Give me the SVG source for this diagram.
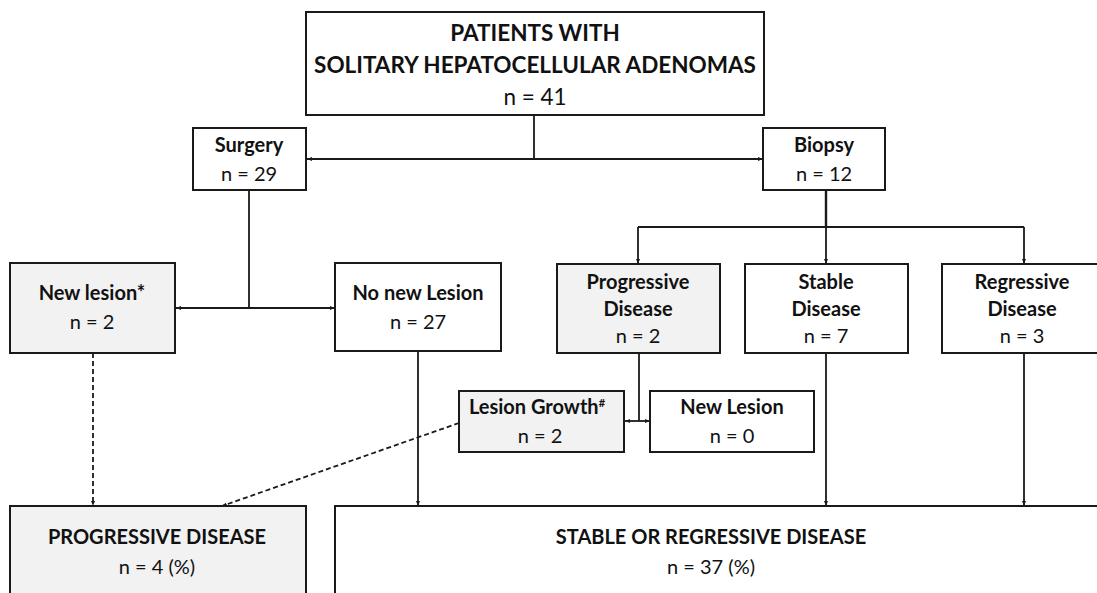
<svg xmlns="http://www.w3.org/2000/svg" width="1097" height="593" viewBox="0 0 1097 593">
<style>
.box{fill:#ffffff;stroke:#1a1a1a;stroke-width:2}
.grey{fill:#f2f2f2}
.t{font-family:Lato,"Open Sans","Liberation Sans",sans-serif;font-size:20px;fill:#111;text-anchor:middle}
.b{font-weight:bold}
.big{font-size:22.5px}
.ln{fill:none;stroke:#1a1a1a;stroke-width:1.8}
.dash{stroke-dasharray:5,3}
</style>
<defs>
<marker id="ah" viewBox="0 0 10 10" refX="10" refY="5" markerWidth="5" markerHeight="5" orient="auto-start-reverse" markerUnits="userSpaceOnUse">
<path d="M0,1 L10,5 L0,9 z" fill="#1a1a1a"/>
</marker>
</defs>
<g id="connectors">
<path class="ln" d="M534,115 V159"/>
<path class="ln" d="M307,159 H763" marker-start="url(#ah)" marker-end="url(#ah)"/>
<path class="ln" d="M249,190 V308"/>
<path class="ln" d="M176,308 H335" marker-start="url(#ah)" marker-end="url(#ah)"/>
<path class="ln" style="stroke-width:2.4" d="M826,190 V227"/>
<path class="ln" d="M638,227 H1024"/>
<path class="ln" d="M638,227 V264" marker-end="url(#ah)"/>
<path class="ln" d="M826,227 V264" marker-end="url(#ah)"/>
<path class="ln" d="M1024,227 V264" marker-end="url(#ah)"/>
<path class="ln" d="M639,353 V421"/>
<path class="ln" d="M625,421 H650" marker-start="url(#ah)" marker-end="url(#ah)"/>
<path class="ln dash" d="M93,353 V506" marker-end="url(#ah)"/>
<path class="ln dash" d="M459,423 L222,506" marker-end="url(#ah)"/>
<path class="ln" d="M418,351 V506" marker-end="url(#ah)"/>
<path class="ln" d="M826,353 V506" marker-end="url(#ah)"/>
<path class="ln" d="M1024,353 V506" marker-end="url(#ah)"/>
</g>
<g id="n-patients">
<rect class="box" x="306" y="12" width="458" height="103"/>
<text class="t b big" x="535" y="41">PATIENTS WITH</text>
<text class="t b big" x="535" y="73">SOLITARY HEPATOCELLULAR ADENOMAS</text>
<text class="t big" x="535" y="105">n = 41</text>
</g>
<g id="n-surgery">
<rect class="box" x="193" y="128" width="113" height="62"/>
<text class="t b" x="249" y="152">Surgery</text>
<text class="t" x="249" y="181">n = 29</text>
</g>
<g id="n-biopsy">
<rect class="box" x="763" y="128" width="122" height="62"/>
<text class="t b" x="824" y="152">Biopsy</text>
<text class="t" x="824" y="181">n = 12</text>
</g>
<g id="n-newlesion">
<rect class="box grey" x="10" y="263" width="165" height="90"/>
<text class="t b" x="92" y="300">New lesion*</text>
<text class="t" x="92" y="329">n = 2</text>
</g>
<g id="n-nonewlesion">
<rect class="box" x="335" y="263" width="166" height="88"/>
<text class="t b" x="418" y="300">No new Lesion</text>
<text class="t" x="418" y="329">n = 27</text>
</g>
<g id="n-progressive">
<rect class="box grey" x="557" y="264" width="163" height="89"/>
<text class="t b" x="638" y="289">Progressive</text>
<text class="t b" x="638" y="316">Disease</text>
<text class="t" x="638" y="343">n = 2</text>
</g>
<g id="n-stable">
<rect class="box" x="745" y="264" width="163" height="89"/>
<text class="t b" x="826" y="289">Stable</text>
<text class="t b" x="826" y="316">Disease</text>
<text class="t" x="826" y="343">n = 7</text>
</g>
<g id="n-regressive">
<rect class="box" x="942" y="264" width="165" height="89"/>
<text class="t b" x="1022" y="289">Regressive</text>
<text class="t b" x="1022" y="316">Disease</text>
<text class="t" x="1022" y="343">n = 3</text>
</g>
<g id="n-growth">
<rect class="box grey" x="459" y="391" width="165" height="61"/>
<text class="t b" x="537" y="414">Lesion Growth<tspan dy="-7" style="font-size:11px">#</tspan></text>
<text class="t" x="540" y="443">n = 2</text>
</g>
<g id="n-newlesion2">
<rect class="box" x="650" y="391" width="164" height="61"/>
<text class="t b" x="732" y="414">New Lesion</text>
<text class="t" x="732" y="443">n = 0</text>
</g>
<g id="n-pd">
<rect class="box grey" x="10" y="506" width="296" height="100"/>
<text class="t b" x="157" y="544">PROGRESSIVE DISEASE</text>
<text class="t" x="157" y="574">n = 4 (%)</text>
</g>
<g id="n-srd">
<rect class="box" x="335" y="506" width="780" height="100"/>
<text class="t b" x="711" y="544">STABLE OR REGRESSIVE DISEASE</text>
<text class="t" x="711" y="574">n = 37 (%)</text>
</g>
</svg>
